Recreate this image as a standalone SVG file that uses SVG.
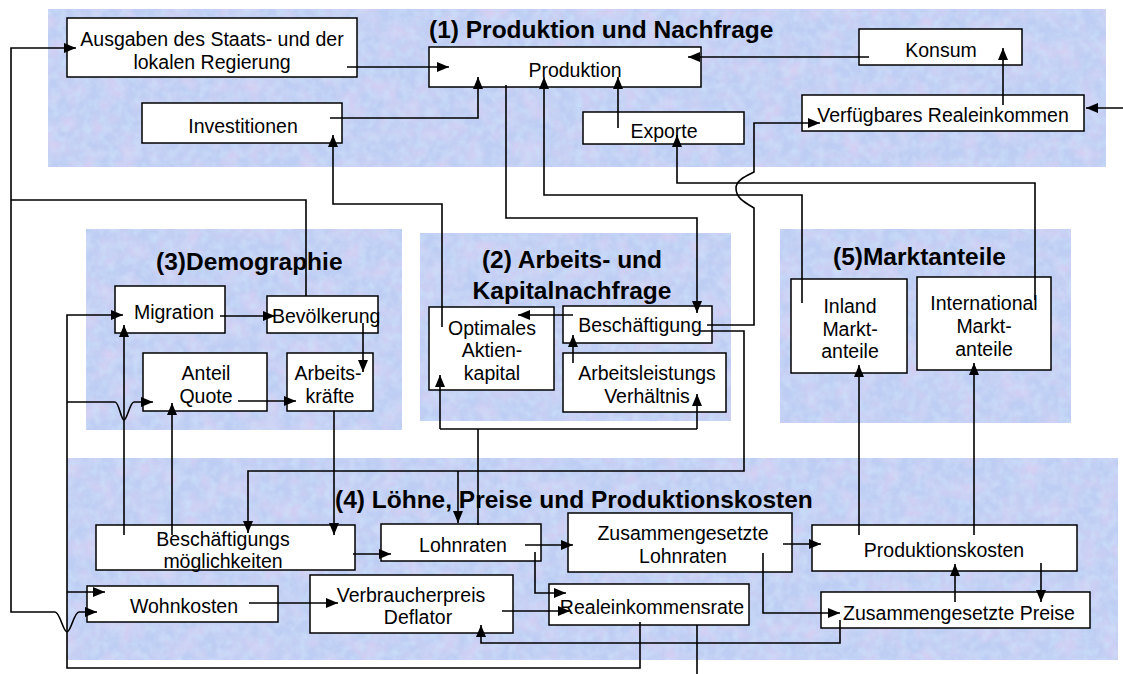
<svg xmlns="http://www.w3.org/2000/svg" width="1123" height="674" viewBox="0 0 1123 674">
<defs>
<filter id="tex" x="0" y="0" width="100%" height="100%" color-interpolation-filters="sRGB">
<feFlood flood-color="#bdcdf3" result="base"/>
<feTurbulence type="fractalNoise" baseFrequency="0.05" numOctaves="2" seed="11" result="n1"/>
<feColorMatrix in="n1" type="matrix" values="0 0 0 0 0.87  0 0 0 0 0.82  0 0 0 0 0.95  0 0 0 1.5 -0.55" result="pink"/>
<feTurbulence type="fractalNoise" baseFrequency="0.12" numOctaves="2" seed="4" result="n2"/>
<feColorMatrix in="n2" type="matrix" values="0 0 0 0 0.80  0 0 0 0 0.88  0 0 0 0 0.98  0 0 0 1.5 -0.55" result="light"/>
<feComposite in="pink" in2="base" operator="over" result="b1"/>
<feComposite in="light" in2="b1" operator="over" result="b2"/>
<feComposite in="b2" in2="SourceGraphic" operator="in"/>
</filter>
<marker id="ah" markerUnits="userSpaceOnUse" markerWidth="13" markerHeight="11" refX="12" refY="5" orient="auto">
<path d="M0,0 L12,5 L0,10 z" fill="#000"/>
</marker>
<style>
.panel{fill:#bdcdf3;filter:url(#tex)}
.box{fill:#fff;stroke:#000;stroke-width:1.5}
.t{font-family:"Liberation Sans",Arial,sans-serif;font-size:19.5px;fill:#000;text-anchor:middle}
.ts{text-anchor:start}
.h{font-family:"Liberation Sans",Arial,sans-serif;font-size:24.5px;font-weight:bold;fill:#000}
.hm{text-anchor:middle}
.c{fill:none;stroke:#000;stroke-width:1.6}
.a{marker-end:url(#ah)}
</style>
</defs>
<rect width="1123" height="674" fill="#fff"/>
<g id="panels">
<rect class="panel" x="48" y="9" width="1058" height="158"/>
<rect class="panel" x="86" y="229" width="316" height="201"/>
<rect class="panel" x="420" y="233" width="311" height="188"/>
<rect class="panel" x="780" y="229" width="291" height="194"/>
<rect class="panel" x="67" y="458" width="1051" height="202"/>
</g>
<g id="titles">
<text class="h" x="429" y="38">(1) Produktion und Nachfrage</text>
<text class="h" x="156" y="270">(3)Demographie</text>
<text class="h hm" x="572" y="268">(2) Arbeits- und</text>
<text class="h hm" x="572" y="299">Kapitalnachfrage</text>
<text class="h" x="833" y="265">(5)Marktanteile</text>
<text class="h" x="335" y="508">(4) Löhne, Preise und Produktionskosten</text>
</g>
<g id="ausgaben"><rect class="box" x="67" y="18" width="290" height="59"/><text class="t" x="212" y="46">Ausgaben des Staats- und der</text><text class="t" x="212" y="69">lokalen Regierung</text></g>
<g id="produktion"><rect class="box" x="429" y="47" width="272" height="40"/><text class="t" x="575" y="77">Produktion</text></g>
<g id="konsum"><rect class="box" x="859" y="29" width="163" height="36"/><text class="t" x="941" y="57">Konsum</text></g>
<g id="verfuegbares"><rect class="box" x="802" y="95" width="282" height="36"/><text class="t" x="943" y="122">Verfügbares Realeinkommen</text></g>
<g id="exporte"><rect class="box" x="583" y="112" width="161" height="32"/><text class="t" x="664" y="138">Exporte</text></g>
<g id="investitionen"><rect class="box" x="142" y="103" width="200" height="40"/><text class="t" x="243" y="133">Investitionen</text></g>
<g id="migration"><rect class="box" x="115" y="286" width="110" height="47"/><text class="t" x="174" y="319">Migration</text></g>
<g id="bevoelkerung"><rect class="box" x="267" y="296" width="111" height="37"/><text class="t ts" x="272" y="323">Bevölkerung</text></g>
<g id="anteil"><rect class="box" x="143" y="353" width="124" height="58"/><text class="t" x="206" y="380">Anteil</text><text class="t" x="206" y="403">Quote</text></g>
<g id="arbeitskraefte"><rect class="box" x="287" y="353" width="86" height="58"/><text class="t" x="328" y="380">Arbeits-</text><text class="t" x="330" y="403">kräfte</text></g>
<g id="optimales"><rect class="box" x="429" y="307" width="125" height="83"/><text class="t" x="492" y="335">Optimales</text><text class="t" x="492" y="357">Aktien-</text><text class="t" x="492" y="380">kapital</text></g>
<g id="beschaeftigung"><rect class="box" x="563" y="306" width="149" height="37"/><text class="t" x="640" y="332">Beschäftigung</text></g>
<g id="arbeitsleistung"><rect class="box" x="563" y="353" width="163" height="59"/><text class="t" x="647" y="380">Arbeitsleistungs</text><text class="t" x="647" y="403">Verhältnis</text></g>
<g id="inland"><rect class="box" x="791" y="279" width="116" height="94"/><text class="t" x="850" y="313">Inland</text><text class="t" x="850" y="336">Markt-</text><text class="t" x="850" y="358">anteile</text></g>
<g id="international"><rect class="box" x="917" y="277" width="134" height="93"/><text class="t" x="984" y="310">International</text><text class="t" x="984" y="333">Markt-</text><text class="t" x="984" y="356">anteile</text></g>
<g id="beschmoeglich"><rect class="box" x="96" y="525" width="259" height="45"/><text class="t" x="223" y="546">Beschäftigungs</text><text class="t" x="223" y="568">möglichkeiten</text></g>
<g id="wohnkosten"><rect class="box" x="87" y="586" width="191" height="36"/><text class="t" x="184" y="613">Wohnkosten</text></g>
<g id="verbraucher"><rect class="box" x="310" y="575" width="203" height="58"/><text class="t" x="411" y="602">Verbraucherpreis</text><text class="t" x="418" y="624">Deflator</text></g>
<g id="lohnraten"><rect class="box" x="381" y="524" width="160" height="37"/><text class="t" x="463" y="552">Lohnraten</text></g>
<g id="zuslohn"><rect class="box" x="568" y="513" width="224" height="59"/><text class="t" x="683" y="540">Zusammengesetzte</text><text class="t" x="683" y="563">Lohnraten</text></g>
<g id="realeinkommen"><rect class="box" x="549" y="584" width="200" height="41"/><text class="t" x="652" y="614">Realeinkommensrate</text></g>
<g id="prodkosten"><rect class="box" x="812" y="525" width="265" height="46"/><text class="t" x="944" y="557">Produktionskosten</text></g>
<g id="zuspreise"><rect class="box" x="821" y="592" width="269" height="36"/><text class="t" x="959" y="620">Zusammengesetzte Preise</text></g>
<g id="connectors">
<path class="c a" d="M347,67 H449"/>
<path class="c a" d="M330,118 H478 V77"/>
<path class="c a" d="M869,57 H688"/>
<path class="c a" d="M1003,105 V48"/>
<path class="c a" d="M618,128 V77"/>
<path class="c a" d="M1123,108 H1086"/>
<path class="c a" d="M442,327 V204 H333 V135"/>
<path class="c a" d="M506,85 V218 H697 V313"/>
<path class="c a" d="M707,325 H754 V208 C744,202 736,198 736,188 C736,180 746,176 754,172 V123 H820"/>
<path class="c a" d="M802,303 V195 H544 V77"/>
<path class="c a" d="M1035,300 V183 H677 V135"/>
<path class="c" d="M306,296 V200 H11"/>
<path class="c a" d="M11,200 V48 H76"/>
<path class="c a" d="M11,200 V612 H55 C60,612 63,632 67,632 C71,632 74,612 79,612 H97"/>
<path class="c a" d="M220,316 H275"/>
<path class="c a" d="M363,323 V372"/>
<path class="c a" d="M238,401 H296"/>
<path class="c a" d="M334,411 V535"/>
<path class="c a" d="M124,535 V325"/>
<path class="c a" d="M172,535 V403"/>
<path class="c a" d="M700,331 H744 V471 H248 V533"/>
<path class="c a" d="M458,471 V523"/>
<path class="c" d="M478,525 V429 M440,429 H697"/>
<path class="c a" d="M440,429 V375"/>
<path class="c a" d="M697,429 V394"/>
<path class="c a" d="M573,363 V335"/>
<path class="c a" d="M573,315 H518"/>
<path class="c a" d="M353,554 H391"/>
<path class="c a" d="M249,603 H338"/>
<path class="c a" d="M525,545 H573"/>
<path class="c a" d="M535,552 V593 H566"/>
<path class="c a" d="M502,611 H570"/>
<path class="c a" d="M783,544 H821"/>
<path class="c a" d="M763,553 V613 H840"/>
<path class="c a" d="M840,620 V643 H481 V625"/>
<path class="c a" d="M955,602 V564"/>
<path class="c a" d="M1041,563 V602"/>
<path class="c a" d="M859,535 V365"/>
<path class="c a" d="M974,535 V363"/>
<path class="c a" d="M640,622 V668 H67 V315 H123"/>
<path class="c a" d="M67,402 H115 C119,402 121,420 124,420 C127,420 130,402 134,402 H153"/>
<path class="c a" d="M67,592 H105"/>
<path class="c" d="M697,625 V674"/>
</g>
</svg>
